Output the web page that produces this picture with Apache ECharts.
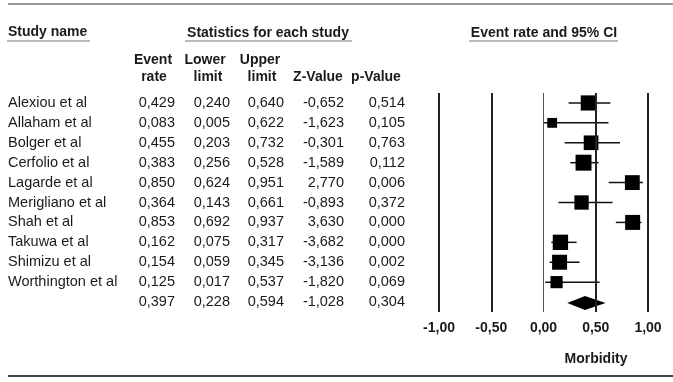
<!DOCTYPE html>
<html>
<head>
<meta charset="utf-8">
<title>Morbidity forest plot</title>
<script src="https://cdn.jsdelivr.net/npm/echarts@6/dist/echarts.min.js"></script>
<style>
  html, body { margin: 0; padding: 0; background: #fff; }
  #chart { width: 673px; height: 382px; }
</style>
</head>
<body>
<div id="chart"></div>
<script>
// study data
const studies = ['Alexiou et al', 'Allaham et al', 'Bolger et al', 'Cerfolio et al', 'Lagarde et al',
  'Merigliano et al', 'Shah et al', 'Takuwa et al', 'Shimizu et al', 'Worthington et al'];
const eventRate = [0.429, 0.083, 0.455, 0.383, 0.850, 0.364, 0.853, 0.162, 0.154, 0.125];
const lowerLimit = [0.240, 0.005, 0.203, 0.256, 0.624, 0.143, 0.692, 0.075, 0.059, 0.017];
const upperLimit = [0.640, 0.622, 0.732, 0.528, 0.951, 0.661, 0.937, 0.317, 0.345, 0.537];
const zValue = [-0.652, -1.623, -0.301, -1.589, 2.770, -0.893, 3.630, -3.682, -3.136, -1.820];
const pValue = [0.514, 0.105, 0.763, 0.112, 0.006, 0.372, 0.000, 0.000, 0.002, 0.069];
// relative weight of each study (box area)
const weights = [230, 97, 215, 255, 220, 205, 225, 235, 225, 148];

// pooled row: rate, lower, upper, z, p
const pooled = [0.397, 0.228, 0.594, -1.028, 0.304];

// x axis
const tickValues = [-1, -0.5, 0, 0.5, 1];
const tickLabels = ['-1,00', '-0,50', '0,00', '0,50', '1,00'];

const FONT = '"Liberation Sans", Arial, sans-serif';
const INK = '#1a1a1a';

// numbers with a decimal comma
function fmt(v) {
  return v.toFixed(3).replace('.', ',');
}

const nRows = studies.length + 1;
const rowIdx = [];
for (let i = 0; i < nRows; i++) rowIdx.push(i);

function column(values) {
  return values.map(fmt);
}

// one category axis per table column, all sitting left of the plot
function colAxis(data, margin, align) {
  return {
    type: 'category',
    inverse: true,
    position: 'left',
    data: data,
    axisLine: { show: false },
    axisTick: { show: false },
    splitLine: { show: false },
    axisLabel: {
      interval: 0,
      margin: margin,
      align: align,
      fontSize: 14.5,
      fontFamily: FONT,
      color: INK
    }
  };
}

const chart = echarts.init(document.getElementById('chart'), null, { renderer: 'canvas' });

const boxData = studies.map((s, i) => [eventRate[i], lowerLimit[i], upperLimit[i], weights[i], i]);

const option = {
  animation: false,
  grid: { left: 439, right: 25, top: 93, bottom: 70 },
  xAxis: {
    type: 'value',
    min: -1,
    max: 1,
    interval: 0.5,
    axisLine: { show: false },
    axisTick: { show: false },
    splitLine: { show: false },
    axisLabel: {
      margin: 9,
      fontSize: 14,
      fontWeight: 'bold',
      fontFamily: FONT,
      color: INK,
      formatter: function (v) {
        const k = tickValues.indexOf(v);
        return k >= 0 ? tickLabels[k] : '';
      }
    }
  },
  yAxis: [
    Object.assign(colAxis(rowIdx, 0, 'left'), { show: false }),
    colAxis(studies.concat(['']), 431, 'left'),
    colAxis(column(eventRate.concat([pooled[0]])), 264, 'right'),
    colAxis(column(lowerLimit.concat([pooled[1]])), 209, 'right'),
    colAxis(column(upperLimit.concat([pooled[2]])), 155, 'right'),
    colAxis(column(zValue.concat([pooled[3]])), 95, 'right'),
    colAxis(column(pValue.concat([pooled[4]])), 34, 'right')
  ],
  series: [
    {
      // reference lines
      type: 'line',
      data: [],
      z: 1,
      markLine: {
        silent: true,
        symbol: 'none',
        label: { show: false },
        data: tickValues.map(v => ({
          xAxis: v,
          lineStyle: { type: 'solid', color: v === 0 ? '#555' : '#222', width: v === 0 ? 1 : 2 }
        }))
      }
    },
    {
      type: 'custom',
      z: 3,
      data: boxData,
      encode: { x: [0, 1, 2], y: 4 },
      renderItem: function (params, api) {
        const row = api.value(4);
        const c = api.coord([api.value(0), row]);
        const lo = api.coord([api.value(1), row]);
        const hi = api.coord([api.value(2), row]);
        const s = Math.sqrt(api.value(3));
        return {
          type: 'group',
          children: [
            {
              type: 'line',
              shape: { x1: lo[0], y1: c[1], x2: hi[0], y2: c[1] },
              style: { stroke: '#111', lineWidth: 1.5 }
            },
            {
              type: 'rect',
              shape: { x: c[0] - s / 2, y: c[1] - s / 2, width: s, height: s },
              style: { fill: '#000' }
            }
          ]
        };
      }
    },
    {
      type: 'custom',
      z: 3,
      data: [[pooled[0], pooled[1], pooled[2], studies.length]],
      encode: { x: [0, 1, 2], y: 3 },
      renderItem: function (params, api) {
        const row = api.value(3);
        const c = api.coord([api.value(0), row]);
        const lo = api.coord([api.value(1), row]);
        const hi = api.coord([api.value(2), row]);
        const h = 7;
        const y = c[1] + 1;
        return {
          type: 'polygon',
          shape: { points: [[lo[0], y], [c[0], y - h], [hi[0], y], [c[0], y + h]] },
          style: { fill: '#000' }
        };
      }
    }
  ],
  graphic: [
    // top and bottom rules
    { type: 'line', shape: { x1: 8, y1: 4, x2: 673, y2: 4 }, style: { stroke: '#777', lineWidth: 1.5 } },
    { type: 'line', shape: { x1: 8, y1: 376, x2: 673, y2: 376 }, style: { stroke: '#444', lineWidth: 2 } },
    // group headers
    { type: 'text', left: 8, top: 25, style: { text: 'Study name', font: 'bold 14px ' + FONT, fill: INK } },
    { type: 'line', shape: { x1: 7, y1: 41, x2: 90, y2: 41 }, style: { stroke: '#bbb', lineWidth: 2 } },
    { type: 'text', x: 268, y: 33, style: { text: 'Statistics for each study', font: 'bold 14px ' + FONT, fill: INK, align: 'center', verticalAlign: 'middle' } },
    { type: 'line', shape: { x1: 185, y1: 41, x2: 352, y2: 41 }, style: { stroke: '#bbb', lineWidth: 2 } },
    { type: 'text', x: 544, y: 33, style: { text: 'Event rate and 95% CI', font: 'bold 14px ' + FONT, fill: INK, align: 'center', verticalAlign: 'middle' } },
    { type: 'line', shape: { x1: 469, y1: 41, x2: 618, y2: 41 }, style: { stroke: '#bbb', lineWidth: 2 } },
    // column headers
    { type: 'text', x: 153, y: 60, style: { text: 'Event', font: 'bold 14px ' + FONT, fill: INK, align: 'center', verticalAlign: 'middle' } },
    { type: 'text', x: 154, y: 77, style: { text: 'rate', font: 'bold 14px ' + FONT, fill: INK, align: 'center', verticalAlign: 'middle' } },
    { type: 'text', x: 205, y: 60, style: { text: 'Lower', font: 'bold 14px ' + FONT, fill: INK, align: 'center', verticalAlign: 'middle' } },
    { type: 'text', x: 208, y: 77, style: { text: 'limit', font: 'bold 14px ' + FONT, fill: INK, align: 'center', verticalAlign: 'middle' } },
    { type: 'text', x: 260, y: 60, style: { text: 'Upper', font: 'bold 14px ' + FONT, fill: INK, align: 'center', verticalAlign: 'middle' } },
    { type: 'text', x: 262, y: 77, style: { text: 'limit', font: 'bold 14px ' + FONT, fill: INK, align: 'center', verticalAlign: 'middle' } },
    { type: 'text', x: 318, y: 77, style: { text: 'Z-Value', font: 'bold 14px ' + FONT, fill: INK, align: 'center', verticalAlign: 'middle' } },
    { type: 'text', x: 376, y: 77, style: { text: 'p-Value', font: 'bold 14px ' + FONT, fill: INK, align: 'center', verticalAlign: 'middle' } },
    // axis title
    { type: 'text', x: 596, y: 359, style: { text: 'Morbidity', font: 'bold 14px ' + FONT, fill: INK, align: 'center', verticalAlign: 'middle' } }
  ]
};

chart.setOption(option);
</script>
</body>
</html>
